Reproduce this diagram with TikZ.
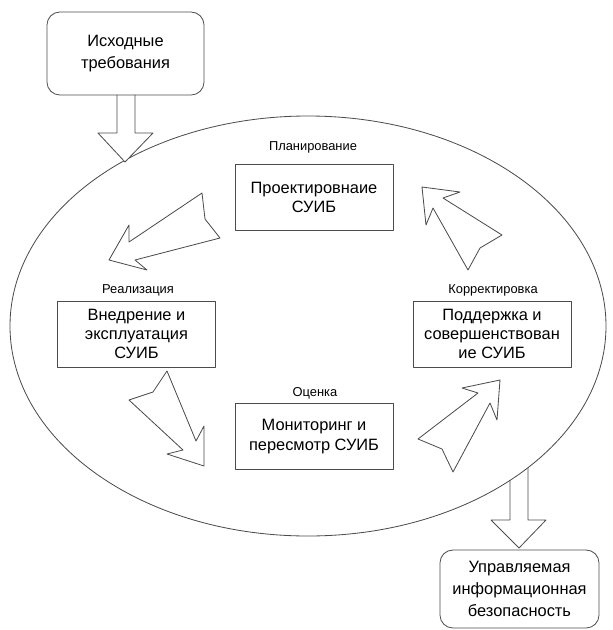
\documentclass[tikz,border=0pt]{standalone}
\usepackage{fontspec}
\setmainfont{Liberation Sans}
\tikzset{
  box/.style={draw=black!70,line width=0.7pt,minimum width=4.74cm,minimum height=1.98cm,
    align=center,inner sep=1pt,font=\fontsize{14}{16.5}\selectfont},
  goalbox/.style={box,rounded corners=11pt,font=\fontsize{14}{19}\selectfont},
  phase/.style={font=\fontsize{11}{13}\selectfont,inner sep=1pt},
  blockarrow/.style={draw=black!70,line width=0.7pt,fill=white},
}
\begin{document}
\begin{tikzpicture}[line cap=round,line join=round,x=0.03cm,y=-0.03cm]
\useasboundingbox (0,0) rectangle (613,630);
% output arrow, partly hidden by the cycle
\draw[blockarrow,fill=none] (510,460) -- (510,520) -- (491,520) -- (519,548) -- (546,520) -- (528,520) -- (528,455);
% the cycle
\draw[blockarrow] (308,326) ellipse [x radius=298,y radius=210];
% input arrow
\draw[blockarrow] (117,95) -- (117,133) -- (98,133) -- (125,162) -- (153,133) -- (135,133) -- (135,95);
% phases
\node[box] (plan) at (314,197.5) {Проектировнаие\\СУИБ};
\node[phase] (planlbl) at (313,147) {Планирование};
\node[box] (real) at (136.5,334) {Внедрение и\\эксплуатация\\СУИБ};
\node[phase] (reallbl) at (138,290) {Реализация};
\node[box] (corr) at (492,334) {Поддержка и\\совершенствован\\ие СУИБ};
\node[phase] (corrlbl) at (493,290) {Корректировка};
\node[box] (eval) at (314,436.5) {Мониторинг и\\пересмотр СУИБ};
\node[phase] (evallbl) at (315,393) {Оценка};
% input and output
\node[goalbox,minimum width=4.71cm,minimum height=2.49cm] (inp) at (125.5,53.5) {Исходные\\требования};
\node[goalbox,minimum width=4.77cm,minimum height=2.34cm] (outp) at (519.5,589) {Управляемая\\информационная\\безопасность};
% arrows between the phases
\draw[blockarrow] (109,260) -- (129,225) -- (129,242) -- (202,193) -- (205,219) -- (220,238) -- (135,260) -- (147,270) -- cycle;
\draw[blockarrow] (167,371) -- (153,392) -- (129,400) -- (183,450) -- (167,454) -- (204,466) -- (204,426) -- (196,441) -- cycle;
\draw[blockarrow] (500,380) -- (462,388) -- (478,393) -- (418,439) -- (442,449) -- (453,472) -- (490,403) -- (497,420) -- cycle;
\draw[blockarrow] (422,187) -- (426,225) -- (433,208) -- (468,270) -- (480,248) -- (502,235) -- (443,198) -- (460,192) -- cycle;
\end{tikzpicture}
\end{document}
